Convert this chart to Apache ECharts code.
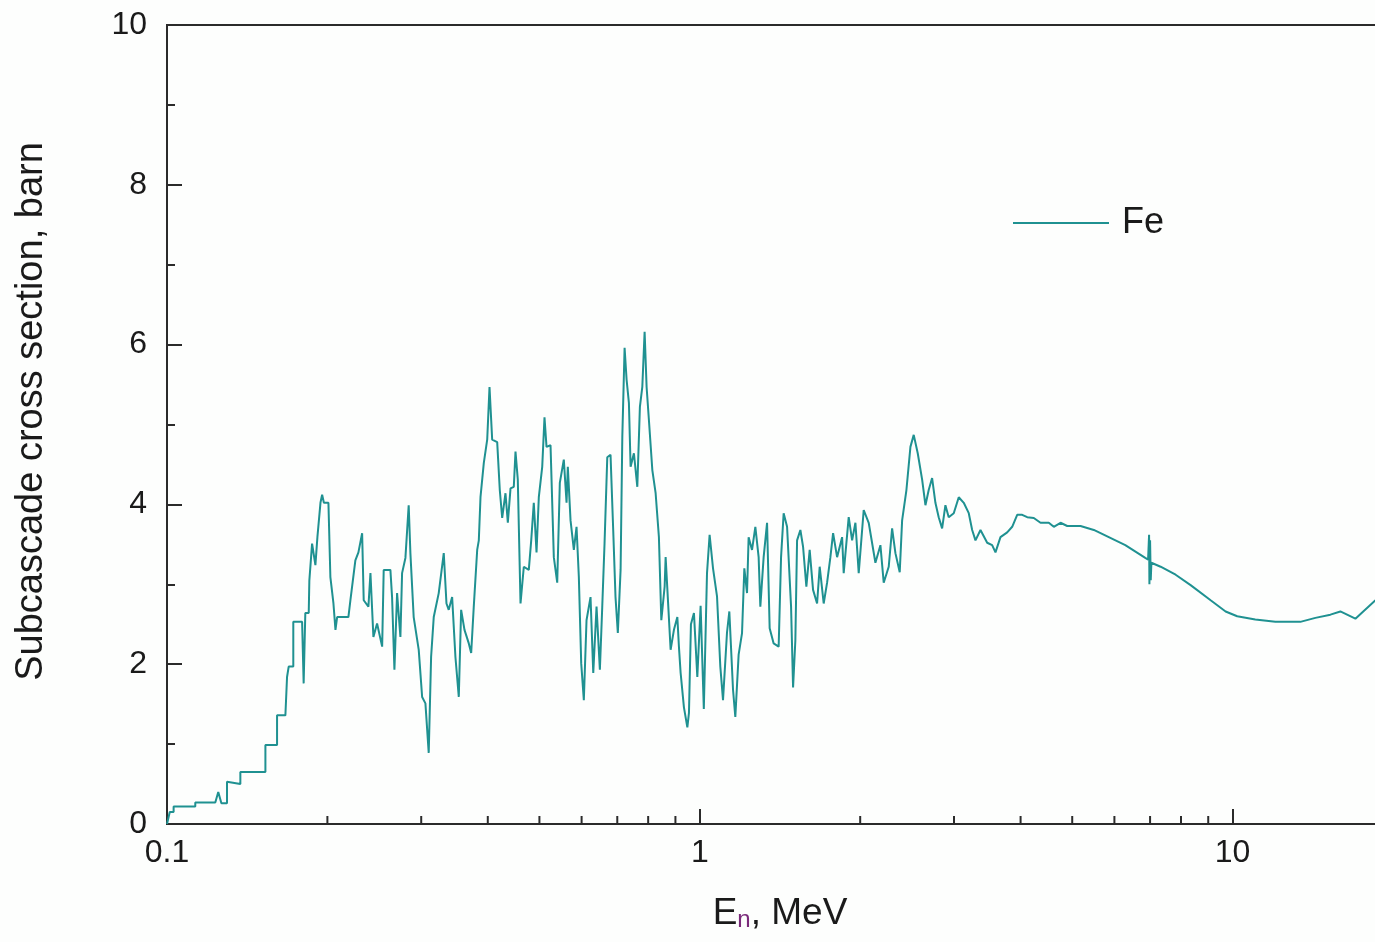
<!DOCTYPE html>
<html><head><meta charset="utf-8">
<script src="https://cdn.jsdelivr.net/npm/echarts@6/dist/echarts.min.js"></script>
<style>html,body{margin:0;padding:0;background:#fdfefd}#c{width:1375px;height:942px}</style>
</head><body><div id="c"></div>
<script>
// ---- data (E in MeV, sigma in barn) ----
const energyLow = [0.1, 0.1012, 0.1029, 0.1029, 0.113, 0.113, 0.1232, 0.1248, 0.1265, 0.1296, 0.1296, 0.1373, 0.1373, 0.153, 0.153, 0.1609, 0.1609, 0.1668, 0.168, 0.1692, 0.1726, 0.1726, 0.1793, 0.1805, 0.1818, 0.1845, 0.185, 0.1872, 0.1899, 0.1916, 0.1941, 0.1955, 0.197, 0.2009];
const sigmaLow  = [0, 0.15, 0.15, 0.22, 0.22, 0.27, 0.27, 0.40, 0.26, 0.26, 0.53, 0.50, 0.65, 0.65, 0.99, 0.99, 1.36, 1.36, 1.84, 1.97, 1.97, 2.53, 2.53, 1.76, 2.64, 2.64, 3.05, 3.51, 3.24, 3.60, 4.02, 4.12, 4.02, 4.02];

const energyMid = [0.2026, 0.2053, 0.2071, 0.2086, 0.219, 0.2209, 0.2257, 0.2287, 0.2324, 0.234,
  0.2388, 0.2409, 0.244, 0.2479, 0.2534, 0.2551, 0.2626, 0.2645, 0.2672, 0.2703,
  0.2742, 0.2762, 0.2802, 0.2842, 0.2863, 0.2904, 0.2968, 0.3012, 0.3055, 0.3099,
  0.3131, 0.3167, 0.3236, 0.3307, 0.3346, 0.3379, 0.3429, 0.3478, 0.3529, 0.3565,
  0.3617, 0.3685, 0.3723, 0.3765, 0.3821, 0.3848, 0.3876, 0.3932, 0.399, 0.403,
  0.4077, 0.4166, 0.4213, 0.4257, 0.4318, 0.4362, 0.4413, 0.4476, 0.4509, 0.4554,
  0.4608, 0.4674, 0.4776, 0.4826, 0.488, 0.4938, 0.4987, 0.5061, 0.5111, 0.5156,
  0.5246, 0.5321, 0.54, 0.5461, 0.5556, 0.5622, 0.5653, 0.572, 0.5802, 0.587,
  0.5929, 0.599, 0.6058, 0.6129, 0.6236, 0.631, 0.64, 0.6493, 0.656, 0.6626,
  0.6704, 0.6799, 0.6878, 0.6947, 0.7017, 0.7101, 0.7154, 0.7225, 0.7288, 0.7361,
  0.7415, 0.7522, 0.7633, 0.7719, 0.78, 0.7878, 0.7946, 0.8025, 0.8145, 0.8262,
  0.838, 0.8468, 0.859, 0.8627, 0.8815, 0.8942, 0.9075, 0.9137, 0.9205, 0.9337,
  0.9476, 0.9542, 0.9624, 0.975, 0.9893];
const sigmaMid = [3.09, 2.76, 2.43, 2.59, 2.59, 2.80, 3.30, 3.40, 3.64, 2.80,
  2.72, 3.14, 2.34, 2.51, 2.22, 3.18, 3.18, 2.84, 1.93, 2.89,
  2.34, 3.14, 3.33, 3.99, 3.39, 2.59, 2.18, 1.59, 1.51, 0.89,
  2.09, 2.59, 2.89, 3.39, 2.76, 2.68, 2.84, 2.09, 1.59, 2.68,
  2.43, 2.26, 2.14, 2.72, 3.43, 3.55, 4.09, 4.52, 4.81, 5.47,
  4.81, 4.78, 4.18, 3.83, 4.14, 3.77, 4.20, 4.22, 4.66, 4.31,
  2.76, 3.22, 3.18, 3.55, 4.02, 3.40, 4.09, 4.47, 5.09, 4.72,
  4.74, 3.34, 3.02, 4.27, 4.56, 4.02, 4.47, 3.80, 3.43, 3.72,
  3.09, 2.01, 1.55, 2.55, 2.84, 1.89, 2.72, 1.93, 2.72, 3.52,
  4.59, 4.62, 3.68, 2.84, 2.39, 3.18, 4.84, 5.96, 5.56, 5.27,
  4.47, 4.64, 4.22, 5.22, 5.47, 6.16, 5.47, 5.06, 4.43, 4.14,
  3.59, 2.55, 2.97, 3.34, 2.18, 2.43, 2.59, 2.22, 1.89, 1.46,
  1.21, 1.39, 2.50, 2.64, 1.84];

const energyHigh = [1.0035, 1.0175, 1.0316, 1.0433, 1.0588, 1.0772, 1.0927, 1.1055, 1.1248, 1.1361,
  1.1544, 1.1659, 1.1827, 1.2002, 1.2122, 1.2264, 1.2349, 1.2532, 1.2713, 1.2895,
  1.299, 1.3177, 1.3373, 1.3524, 1.3759, 1.406, 1.4207, 1.4367, 1.4581, 1.4835,
  1.4964, 1.5113, 1.5225, 1.5444, 1.5625, 1.5849, 1.6077, 1.6315, 1.66, 1.6788,
  1.7081, 1.7334, 1.7583, 1.779, 1.81, 1.8496, 1.8624, 1.9031, 1.9313, 1.9591,
  1.9872, 2.0306, 2.0749, 2.1359, 2.1826, 2.214, 2.2624, 2.2958, 2.3288, 2.3726,
  2.3973, 2.4422, 2.4849, 2.5206, 2.5646, 2.6139, 2.6515, 2.6891, 2.729, 2.7682,
  2.8079, 2.8495, 2.8906, 2.932, 2.9966, 3.0621, 3.129, 3.1974, 3.2448, 3.2915,
  3.3634, 3.4623, 3.5376, 3.5886, 3.6671, 3.775, 3.8575, 3.9417, 4.0279, 4.1159,
  4.235, 4.3596, 4.5187, 4.6175, 4.7534, 4.8932, 5.1825, 5.4894, 5.6508, 6.289,
  6.856, 6.94, 6.97, 6.98, 7.0, 7.02, 7.04, 7.326, 7.817, 8.34,
  9.094, 9.702];
const sigmaHigh = [2.73, 1.44, 3.14, 3.62, 3.20, 2.85, 1.97, 1.55, 2.40, 2.66,
  1.68, 1.34, 2.12, 2.39, 3.20, 2.89, 3.59, 3.43, 3.72, 3.34,
  2.72, 3.34, 3.77, 2.45, 2.26, 2.22, 3.34, 3.89, 3.72, 2.72,
  1.71, 2.30, 3.55, 3.68, 3.47, 2.97, 3.43, 2.93, 2.76, 3.22,
  2.76, 3.02, 3.34, 3.64, 3.34, 3.59, 3.14, 3.84, 3.55, 3.77,
  3.14, 3.93, 3.77, 3.27, 3.49, 3.02, 3.22, 3.70, 3.39, 3.15,
  3.80, 4.18, 4.72, 4.87, 4.64, 4.31, 3.99, 4.18, 4.33, 4.02,
  3.84, 3.70, 3.99, 3.84, 3.89, 4.09, 4.02, 3.89, 3.68, 3.55,
  3.68, 3.52, 3.49, 3.40, 3.59, 3.65, 3.72, 3.87, 3.87, 3.84,
  3.83, 3.77, 3.77, 3.72, 3.77, 3.73, 3.73, 3.68, 3.64, 3.49,
  3.33, 3.31, 3.62, 3.00, 3.55, 3.05, 3.27, 3.22, 3.12, 2.99,
  2.80, 2.66];

const energyTop = [10.2, 11.03, 12.03, 13.40, 14.30, 15.26, 15.93, 17.0, 18.54, 20];
const sigmaTop  = [2.60, 2.56, 2.53, 2.53, 2.58, 2.62, 2.66, 2.57, 2.80, 3.02];

const xMinorTickValues = [0.2, 0.3, 0.4, 0.5, 0.6, 0.7, 0.8, 0.9, 2, 3, 4, 5, 6, 7, 8, 9, 20];
const seriesName = 'Fe';
const yTitle = 'Subcascade cross section, barn';

// ---- build ----
const energy = energyLow.concat(energyMid, energyHigh, energyTop);
const sigma = sigmaLow.concat(sigmaMid, sigmaHigh, sigmaTop);
const data = energy.map((e, i) => [e, sigma[i]]);

const AX = '#2b2b2b';
const TXT = '#1a1a1a';
const LINE = '#1f9191';
const FONT = '"Liberation Sans", Arial, Helvetica, sans-serif';

const chart = echarts.init(document.getElementById('c'), null, {renderer: 'canvas'});
chart.setOption({
  backgroundColor: '#fdfefd',
  animation: false,
  textStyle: {fontFamily: FONT},
  grid: {left: 167, top: 25, width: 1226, height: 799, show: true, borderColor: AX, borderWidth: 2,
         backgroundColor: 'transparent', containLabel: false, outerBoundsMode: 'none'},
  legend: {
    data: [{name: seriesName, icon: 'rect'}], left: 1008, top: 200, itemWidth: 96, itemHeight: 2,
    itemStyle: {color: LINE},
    textStyle: {fontSize: 36, color: TXT, fontFamily: FONT, padding: [0, 0, 0, 8]}
  },
  xAxis: {
    type: 'log', logBase: 10, min: 0.1, max: 20,
    name: '{a|E}{n|n}{a|, MeV}', nameLocation: 'middle', nameGap: 64, nameMoveOverlap: false,
    nameTextStyle: {
      rich: {
        a: {fontSize: 37, color: TXT, fontFamily: FONT, lineHeight: 44, verticalAlign: 'bottom'},
        n: {fontSize: 24, color: '#7a2a7a', fontFamily: FONT, lineHeight: 10, padding: [24, 0, 0, 0], verticalAlign: 'bottom'}
      }
    },
    axisLine: {show: true, lineStyle: {color: AX, width: 2}},
    axisTick: {show: true, inside: true, length: 15, lineStyle: {color: AX, width: 2}},
    axisLabel: {fontSize: 32, color: TXT, margin: 13, fontFamily: FONT},
    splitLine: {show: false}
  },
  yAxis: {
    type: 'value', min: 0, max: 10, interval: 2,
    name: yTitle, nameLocation: 'middle', nameRotate: 90, nameGap: 116, nameMoveOverlap: false,
    nameTextStyle: {fontSize: 38, color: TXT, fontFamily: FONT, padding: [0, 0, 0, 26]},
    axisLine: {show: true, lineStyle: {color: AX, width: 2}},
    axisTick: {show: true, inside: true, length: 15, lineStyle: {color: AX, width: 2}},
    minorTick: {show: true, splitNumber: 2, length: 8, lineStyle: {color: AX, width: 2}},
    axisLabel: {fontSize: 32, color: TXT, margin: 20, fontFamily: FONT},
    splitLine: {show: false}, minorSplitLine: {show: false}
  },
  series: [
    {
      name: seriesName, type: 'line', data: data, showSymbol: false, symbol: 'none',
      lineStyle: {color: LINE, width: 2}, itemStyle: {color: LINE}, clip: true, z: 3
    },
    {
      type: 'custom', coordinateSystem: 'cartesian2d', silent: true, clip: false, z: 5,
      data: xMinorTickValues.map(v => [v, 0]),
      renderItem: function (params, api) {
        const p = api.coord([api.value(0), 0]);
        return {type: 'line', shape: {x1: p[0], y1: p[1], x2: p[0], y2: p[1] - 8},
                style: {stroke: AX, lineWidth: 2}};
      }
    }
  ]
});
</script></body></html>
